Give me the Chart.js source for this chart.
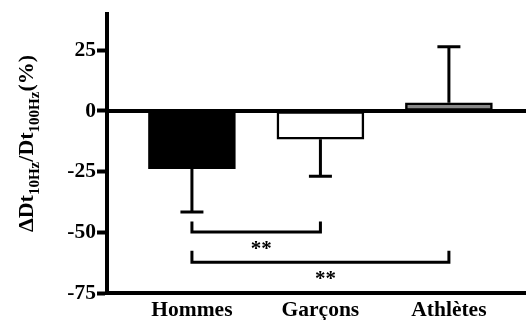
<!DOCTYPE html>
<html>
<head>
<meta charset="utf-8">
<script src="https://cdn.jsdelivr.net/npm/chart.js@4/dist/chart.umd.min.js"></script>
<style>
html,body{margin:0;padding:0;background:#fff;}
#wrap{width:526px;height:320px;position:relative;}
</style>
</head>
<body>
<div id="wrap"><canvas id="c" width="526" height="320"></canvas></div>
<script>
// ---- data ----
const categories = ["Hommes", "Garçons", "Athlètes"];
const positions = [1, 2, 3];
const values = [-23.8, -11.6, 3.4];
const errorEnds = [-41.6, -26.9, 26.5];
const barColors = ["#000000", "#ffffff", "#888888"];
const yTicks = [-75, -50, -25, 0, 25];
// significance brackets
const bracketFrom = [0, 0];
const bracketTo = [1, 2];
const bracketTop = [-45.5, -57.6];
const bracketLine = [-49.9, -62.3];
const bracketStar = [-56.0, -68.1];
const bracketLabel = ["**", "**"];

const SERIF = '"Liberation Serif", "Times New Roman", serif';

const overlay = {
  id: 'overlay',
  afterDatasetsDraw(chart) {
    const ctx = chart.ctx;
    const xs = chart.scales.x, ys = chart.scales.y;
    const area = chart.chartArea;
    ctx.save();
    ctx.strokeStyle = '#000';
    ctx.lineWidth = 4;
    ctx.beginPath();
    ctx.moveTo(area.left, ys.getPixelForValue(0));
    ctx.lineTo(area.right, ys.getPixelForValue(0));
    ctx.stroke();
    ctx.lineWidth = 3;
    ctx.lineCap = 'butt';
    positions.forEach((p, i) => {
      const x = xs.getPixelForValue(p);
      const y0 = ys.getPixelForValue(values[i]);
      const y1 = ys.getPixelForValue(errorEnds[i]);
      ctx.beginPath();
      ctx.moveTo(x, y0);
      ctx.lineTo(x, y1);
      ctx.moveTo(x - 11.5, y1);
      ctx.lineTo(x + 11.5, y1);
      ctx.stroke();
    });
    ctx.lineWidth = 3;
    ctx.lineJoin = 'miter';
    bracketFrom.forEach((f, i) => {
      const xa = xs.getPixelForValue(positions[f]);
      const xb = xs.getPixelForValue(positions[bracketTo[i]]);
      const yt = ys.getPixelForValue(bracketTop[i]);
      const yl = ys.getPixelForValue(bracketLine[i]);
      ctx.beginPath();
      ctx.moveTo(xa, yt);
      ctx.lineTo(xa, yl);
      ctx.lineTo(xb, yl);
      ctx.lineTo(xb, yt);
      ctx.stroke();
      ctx.fillStyle = '#000';
      ctx.font = 'bold 21px ' + SERIF;
      ctx.textAlign = 'center';
      ctx.textBaseline = 'middle';
      ctx.fillText(bracketLabel[i], (xa + xb) / 2 + 5, ys.getPixelForValue(bracketStar[i]) + 3);
    });
    ctx.restore();
  },
  afterDraw(chart) {
    const ctx = chart.ctx;
    ctx.save();
    const parts = [
      {t: 'ΔDt', s: 22, dy: 0},
      {t: '10Hz', s: 15, dy: 6},
      {t: '/Dt', s: 22, dy: 0},
      {t: '100Hz', s: 15, dy: 6},
      {t: '(%)', s: 22, dy: 0}
    ];
    let total = 0;
    parts.forEach(p => { ctx.font = 'bold ' + p.s + 'px ' + SERIF; p.w = ctx.measureText(p.t).width; total += p.w; });
    ctx.translate(33, 143.5);
    ctx.rotate(-Math.PI / 2);
    ctx.fillStyle = '#000';
    ctx.textBaseline = 'alphabetic';
    ctx.textAlign = 'left';
    let x = -total / 2;
    parts.forEach(p => {
      ctx.font = 'bold ' + p.s + 'px ' + SERIF;
      ctx.fillText(p.t, x, p.dy);
      x += p.w;
    });
    ctx.restore();
  }
};

new Chart(document.getElementById('c'), {
  type: 'bar',
  data: {
    datasets: [{
      data: positions.map((p, i) => ({x: p, y: values[i]})),
      backgroundColor: barColors,
      borderColor: '#000',
      borderWidth: 2.5,
      borderSkipped: false,
      barThickness: 87
    }]
  },
  options: {
    responsive: false,
    animation: false,
    events: [],
    layout: {padding: {left: 0, right: 0, top: 8, bottom: 0}},
    plugins: {legend: {display: false}, tooltip: {enabled: false}},
    scales: {
      x: {
        type: 'linear',
        offset: false,
        min: 0.339,
        max: 3.6,
        afterBuildTicks: s => { s.ticks = positions.map(v => ({value: v})); },
        afterFit: s => { s.height = 27; },
        grid: {display: false, drawTicks: false, offset: false},
        border: {display: true, color: '#000', width: 4},
        ticks: {
          padding: 5,
          color: '#000',
          font: {family: SERIF, size: 21.5, weight: 'bold'},
          callback: v => categories[positions.indexOf(v)] || ''
        }
      },
      y: {
        min: -75,
        max: 40,
        afterBuildTicks: s => { s.ticks = yTicks.map(v => ({value: v})); },
        afterFit: s => { s.width = 107; },
        grid: {drawOnChartArea: false, drawTicks: true, tickLength: 10, tickWidth: 4, tickColor: '#000'},
        border: {display: true, color: '#000', width: 4},
        ticks: {
          padding: 1,
          color: '#000',
          font: {family: SERIF, size: 21.5, weight: 'bold'},
          callback: v => String(v)
        }
      }
    }
  },
  plugins: [overlay]
});
</script>
</body>
</html>
